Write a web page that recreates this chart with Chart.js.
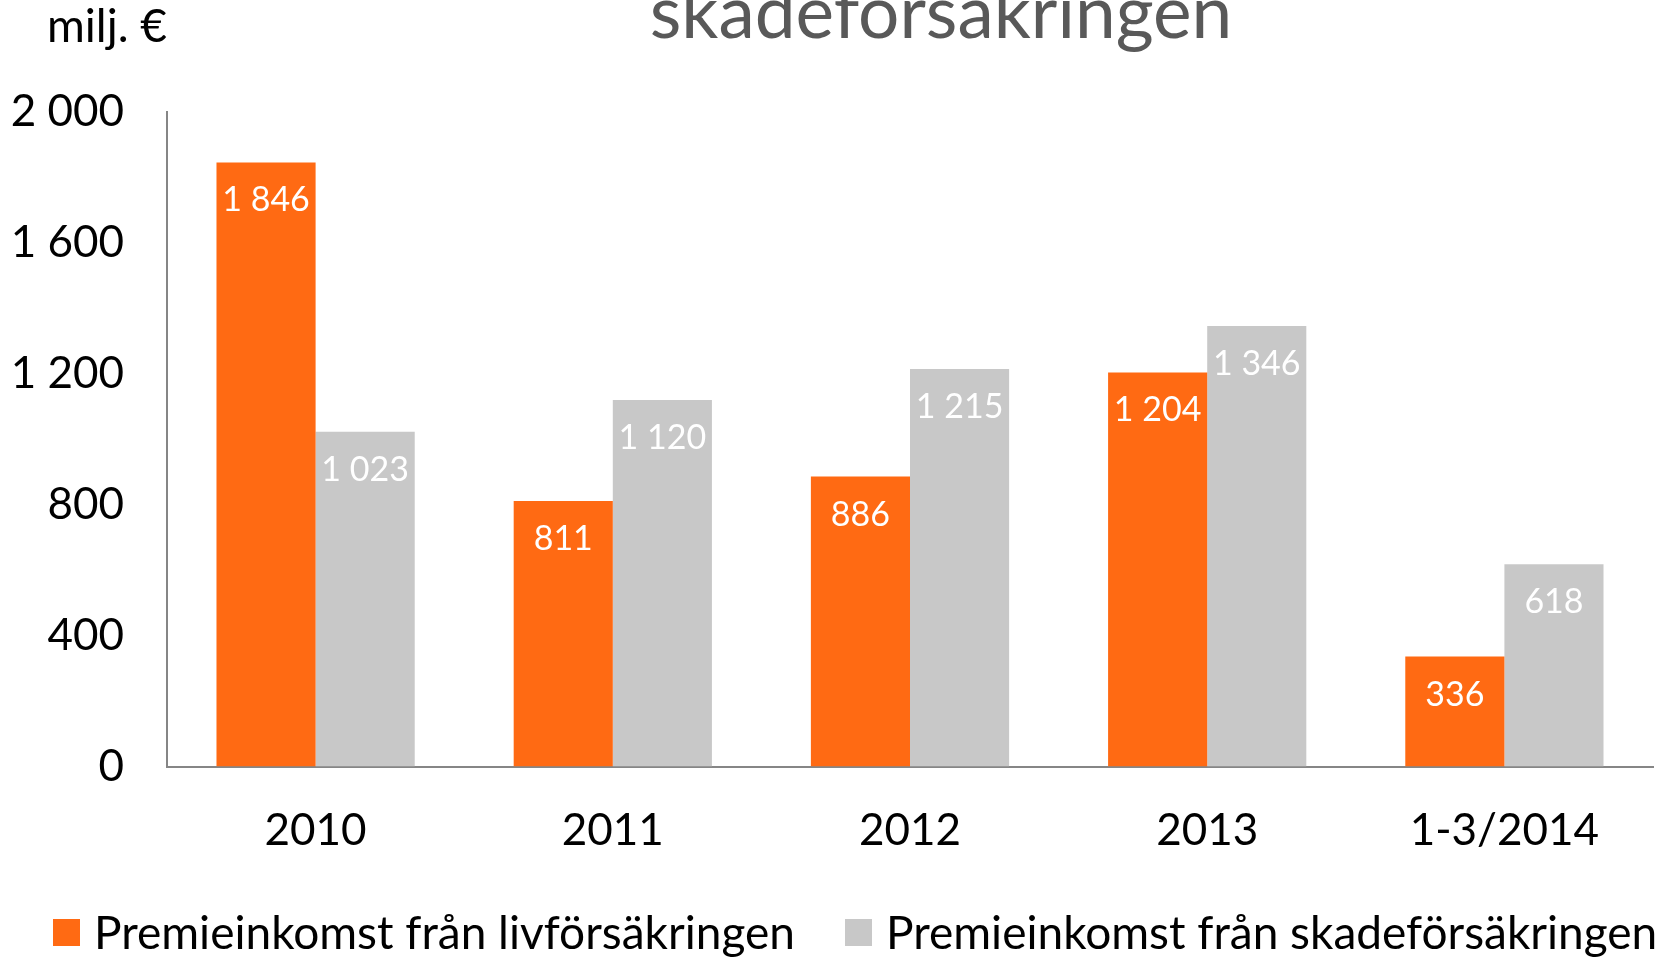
<!DOCTYPE html>
<html>
<head>
<meta charset="utf-8">
<script src="https://cdn.jsdelivr.net/npm/chart.js@4.4.1/dist/chart.umd.min.js"></script>
<style>
  html, body { margin: 0; padding: 0; background: #fff; }
  #wrap { width: 1667px; height: 957px; position: relative; overflow: hidden; }
  #chart { position: absolute; left: 0; top: 0; }
  .legend-item {
    position: absolute; top: 906px; height: 52px;
    display: flex; align-items: center; white-space: nowrap;
    font-family: Lato, sans-serif; font-size: 46px; line-height: 1; color: #000;
  }
  .legend-box { width: 27px; height: 27px; margin-right: 14px; flex: none; }
</style>
</head>
<body>
<div id="wrap">
  <canvas id="chart" width="1667" height="957"></canvas>
  <div id="legend"></div>
</div>
<script>
// Premium income, million euro
const categories = ['2010', '2011', '2012', '2013', '1-3/2014'];
const lifeInsurance = [1846, 811, 886, 1204, 336];
const nonLifeInsurance = [1023, 1120, 1215, 1346, 618];
const seriesNames = ['Premieinkomst från livförsäkringen', 'Premieinkomst från skadeförsäkringen'];
const seriesColors = ['#ff6a13', '#c8c8c8'];
const yTicks = [0, 400, 800, 1200, 1600, 2000];
const titleText = 'skadeförsäkringen';
const unitText = 'milj. €';

const FONT = 'Lato';
const fmt = v => String(v).replace(/\B(?=(\d{3})+(?!\d))/g, ' ');

// Value labels inside the top of each bar
const barLabels = {
  id: 'barLabels',
  afterDatasetsDraw(chart) {
    const ctx = chart.ctx;
    ctx.save();
    ctx.font = `34px ${FONT}`;
    ctx.fillStyle = '#ffffff';
    ctx.textAlign = 'center';
    ctx.textBaseline = 'middle';
    chart.data.datasets.forEach((ds, i) => {
      chart.getDatasetMeta(i).data.forEach((bar, j) => {
        ctx.fillText(fmt(ds.data[j]), bar.x, bar.y + 38);
      });
    });
    ctx.restore();
  }
};

// Title (partly above the canvas edge) and unit caption
const headerText = {
  id: 'headerText',
  afterDraw(chart) {
    const ctx = chart.ctx;
    ctx.save();
    ctx.textBaseline = 'alphabetic';
    ctx.fillStyle = '#595959';
    ctx.font = `73px ${FONT}`;
    ctx.textAlign = 'center';
    ctx.fillText(titleText, 941, 38);
    ctx.fillStyle = '#000000';
    ctx.font = `46px ${FONT}`;
    ctx.textAlign = 'right';
    ctx.fillText(unitText, 167, 42);
    ctx.restore();
  }
};

// HTML legend built from the chart's own legend items
const htmlLegend = {
  id: 'htmlLegend',
  afterUpdate(chart) {
    const host = document.getElementById('legend');
    host.innerHTML = '';
    const items = chart.options.plugins.legend.labels.generateLabels(chart);
    const lefts = [53, 845];
    items.forEach((item, i) => {
      const el = document.createElement('div');
      el.className = 'legend-item';
      el.style.left = lefts[i] + 'px';
      const box = document.createElement('span');
      box.className = 'legend-box';
      box.style.background = item.fillStyle;
      const txt = document.createElement('span');
      txt.textContent = item.text;
      el.appendChild(box);
      el.appendChild(txt);
      host.appendChild(el);
    });
  }
};

new Chart(document.getElementById('chart'), {
  type: 'bar',
  data: {
    labels: categories,
    datasets: [
      { label: seriesNames[0], data: lifeInsurance, backgroundColor: seriesColors[0] },
      { label: seriesNames[1], data: nonLifeInsurance, backgroundColor: seriesColors[1] }
    ]
  },
  options: {
    responsive: false,
    animation: false,
    devicePixelRatio: 1,
    layout: { padding: { top: 112, right: 14, left: 0, bottom: 101 } },
    datasets: { bar: { barPercentage: 1, categoryPercentage: 0.667 } },
    plugins: {
      legend: { display: false },
      tooltip: { enabled: false },
      title: { display: false }
    },
    scales: {
      x: {
        afterFit: s => { s.height = 89.5; },
        grid: { display: false, drawTicks: false },
        border: { display: true, color: '#868686', width: 2 },
        ticks: { font: { family: FONT, size: 44 }, color: '#000', padding: 38, maxRotation: 0 }
      },
      y: {
        min: 0, max: 2000,
        afterBuildTicks: s => { s.ticks = yTicks.map(v => ({ value: v })); },
        afterFit: s => { s.width = 167; },
        grid: { display: false, drawTicks: false },
        border: { display: true, color: '#868686', width: 2 },
        ticks: { font: { family: FONT, size: 44 }, color: '#000', padding: 43, callback: v => fmt(v) }
      }
    }
  },
  plugins: [barLabels, headerText, htmlLegend]
});
</script>
</body>
</html>
